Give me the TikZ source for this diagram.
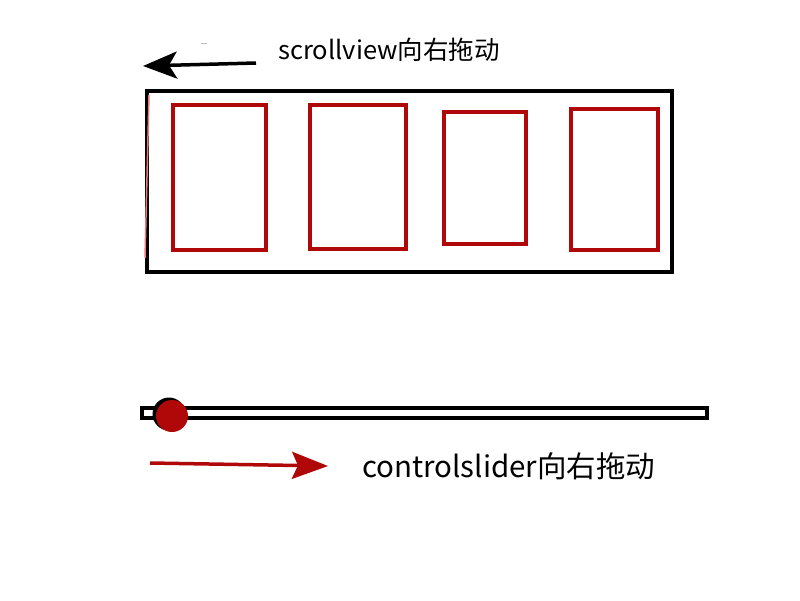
\documentclass[tikz,border=0pt]{standalone}
\usepackage{fontspec}
\setmainfont{Noto Sans CJK SC}
\usetikzlibrary{arrows.meta}

\definecolor{penred}{RGB}{176,8,8}
\definecolor{stray}{RGB}{236,120,120}

\tikzset{
  frame/.style={draw=black, line width=3.5pt, inner sep=0pt},
  card/.style={draw=penred, line width=3.5pt, inner sep=0pt},
  label/.style={anchor=west, inner sep=0pt, font=\fontsize{25.5}{28}\selectfont}
}

\begin{document}
\begin{tikzpicture}[x=1pt,y=-1pt]
\useasboundingbox (0,0) rectangle (800,600);

% scrollview frame and its cards
\path (409.5,181.5) node[frame, minimum width=525pt, minimum height=181pt] (view) {}
      (219.5,177.5) node[card, minimum width=93pt, minimum height=145pt] (c1) {}
      (358,177) node[card, minimum width=96pt, minimum height=144pt] (c2) {}
      (485,178) node[card, minimum width=82pt, minimum height=132pt] (c3) {}
      (614.5,179.5) node[card, minimum width=87pt, minimum height=141pt] (c4) {};
\draw[stray, line width=1.5pt] (149,95) -- (145,258);

% top arrow
\coordinate (sv-tail) at (256,63);
\coordinate (sv-head) at (143,66);
\draw[line width=3.5pt, -{Stealth[length=34pt, width=27pt, inset=8pt]}] (sv-tail) -- (sv-head);
\node[label] (sv-text) at (278,50) {scrollview向右拖动};
\fill[gray!50] (201,43) rectangle (207,44);

% slider
\path (424.5,413) node[frame, minimum width=565pt, minimum height=10pt] (track) {};
\path (169,414) node[circle, fill=black, minimum size=33pt, inner sep=0pt] (knob-edge) {}
      (172,416) node[circle, fill=penred, minimum size=32pt, inner sep=0pt] (knob) {};

% bottom arrow
\coordinate (cs-tail) at (150,463);
\coordinate (cs-head) at (328,466);
\draw[penred, line width=3.5pt, -{Stealth[length=36pt, width=27pt, inset=6pt]}] (cs-tail) -- (cs-head);
\node[label, font=\fontsize{29.5}{32}\selectfont] (cs-text) at (362,466) {controlslider向右拖动};
\end{tikzpicture}
\end{document}
